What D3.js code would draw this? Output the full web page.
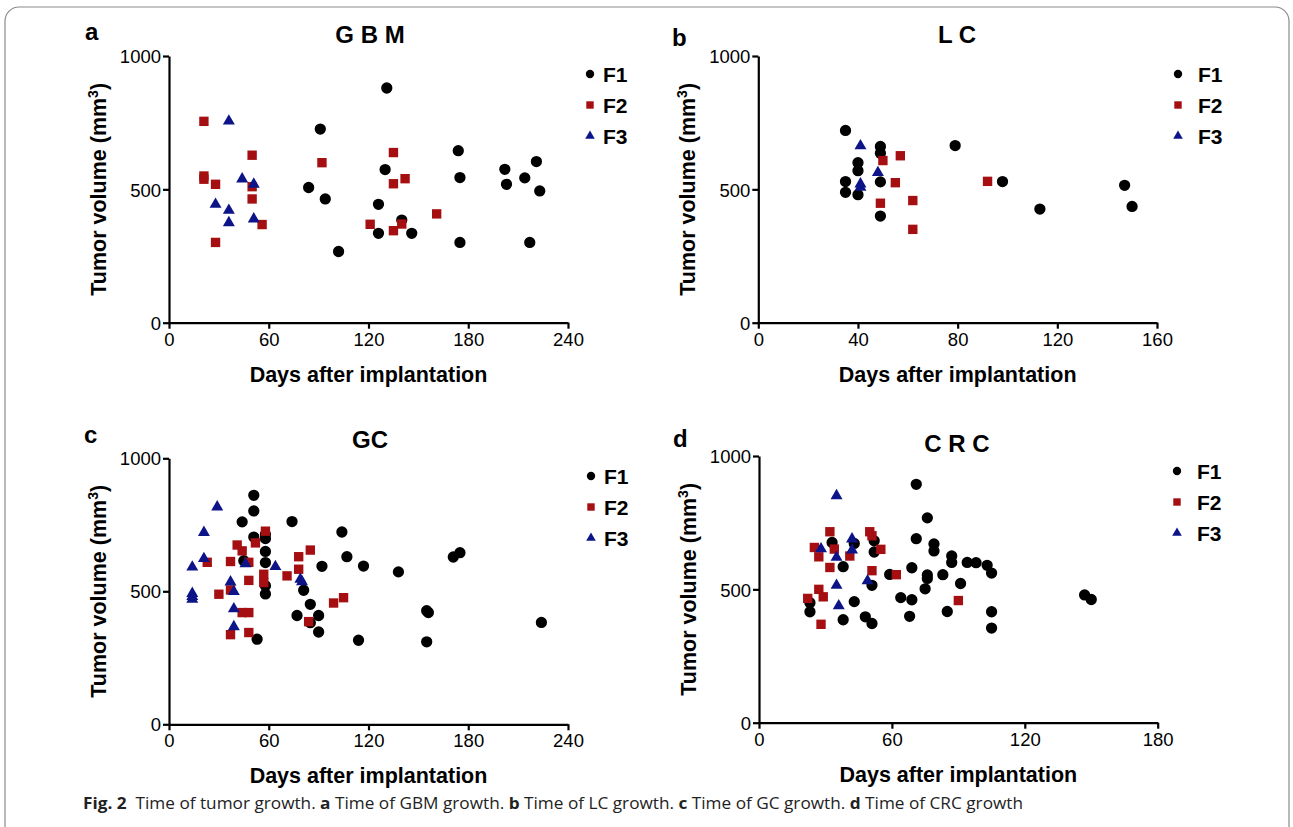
<!DOCTYPE html>
<html><head><meta charset="utf-8">
<script src="https://cdn.jsdelivr.net/npm/d3@7"></script>
<style>
body{margin:0;background:#fff;}
text{font-family:"Liberation Sans",Arial,sans-serif;}
</style></head>
<body>
<svg id="chart" width="1293" height="827"></svg>
<script>
// ---------- data: [days, volume mm3] ----------
const gbmF1 = [[131,880],[91,726],[84,507],[94,464],[102,267],[130,574],[126,444],[126,335],[140,385],[146,335],[174,645],[175,544],[175,301],[202,575],[203,519],[214,543],[221,604],[223,494],[217,301]];
const gbmF2 = [[21,755],[21,550],[21,538],[28,519],[28,301],[50,628],[50,510],[50,464],[56,368],[92,600],[135,638],[135,521],[142,540],[121,369],[140,370],[135,345],[161,408]];
const gbmF3 = [[36,756],[44,539],[51,519],[28,444],[36,421],[36,375],[51,389]];

const lcF1 = [[35,721],[35,529],[35,489],[40,600],[40,570],[40,480],[49,661],[49,635],[49,528],[49,400],[79,664],[98,529],[113,426],[147,515],[150,436]];
const lcF2 = [[50,608],[57,626],[55,525],[49,448],[62,458],[62,350],[92,530]];
const lcF3 = [[41,663],[41,520],[48,563],[41,508]];

const gcF1 = [[51,861],[51,802],[44,761],[51,704],[58,714],[58,698],[58,650],[58,608],[58,521],[58,490],[45,615],[53,320],[74,762],[81,504],[85,451],[77,409],[90,409],[90,347],[85,382],[92,594],[104,723],[107,630],[117,595],[114,316],[138,573],[155,427],[156,420],[155,310],[171,629],[175,645],[224,383]];
const gcF2 = [[58,726],[52,682],[41,674],[44,652],[37,612],[23,609],[48,609],[48,541],[57,564],[57,533],[78,630],[85,655],[78,583],[71,558],[30,489],[37,505],[44,420],[48,420],[37,337],[48,345],[99,456],[105,476],[84,386]];
const gcF3 = [[29,817],[21,721],[21,623],[14,591],[14,492],[14,480],[14,470],[37,535],[39,499],[39,434],[39,367],[46,603],[64,593],[79,545],[80,536]];

const crcF1 = [[71,894],[76,768],[71,690],[79,670],[79,644],[87,625],[87,601],[94,601],[98,600],[103,590],[105,561],[69,581],[76,554],[76,541],[83,555],[91,522],[75,502],[59,556],[64,469],[69,461],[68,399],[85,417],[105,416],[105,355],[147,479],[150,462],[33,676],[43,672],[52,682],[52,640],[38,585],[51,515],[23,450],[23,416],[43,454],[38,386],[48,397],[51,372]];
const crcF2 = [[32,716],[50,716],[51,701],[25,657],[34,651],[27,622],[41,625],[55,650],[32,582],[51,570],[62,555],[22,466],[27,500],[29,472],[28,369],[90,458]];
const crcF3 = [[35,851],[42,689],[42,647],[28,652],[35,620],[35,515],[36,438],[49,532]];

const yTicks = [0,500,1000];
const seriesNames = ["F1","F2","F3"];
const seriesColors = ["#000000","#a50f12","#0c1488"];

// ---------- layout ----------
const panels = [
  {letter:"a", title:"G B M", data:[gbmF1,gbmF2,gbmF3], xMax:240, xTicks:[0,60,120,180,240],
   x0:169, x1:568, y0:322.7, y1:56, lx:85, ly:40, tx:370, ty:43, legX:590, legY:74, legGap:13},
  {letter:"b", title:"L C", data:[lcF1,lcF2,lcF3], xMax:160, xTicks:[0,40,80,120,160],
   x0:758.3, x1:1157, y0:322.7, y1:56, lx:672, ly:46, tx:957, ty:43, legX:1178, legY:74, legGap:20},
  {letter:"c", title:"GC", data:[gcF1,gcF2,gcF3], xMax:240, xTicks:[0,60,120,180,240],
   x0:169, x1:568, y0:724.3, y1:458.3, lx:84, ly:443, tx:370, ty:448, legX:591, legY:476, legGap:13},
  {letter:"d", title:"C R C", data:[crcF1,crcF2,crcF3], xMax:180, xTicks:[0,60,120,180],
   x0:759, x1:1157.7, y0:722.7, y1:456, lx:673, ly:447, tx:957, ty:452, legX:1177, legY:471, legGap:20}
];

const svg = d3.select("#chart");

// frame
svg.append("rect").attr("x",5).attr("y",7).attr("width",1284).attr("height",840)
  .attr("rx",14).attr("fill","none").attr("stroke","#8a8a8a").attr("stroke-width",1.2);

const symbols = [d3.symbolCircle, d3.symbolSquare, d3.symbolTriangle];
const plotSizes = [100, 88, 62];
const legSizes = [55, 55, 40];

panels.forEach(p => {
  const x = d3.scaleLinear().domain([0,p.xMax]).range([p.x0,p.x1]);
  const y = d3.scaleLinear().domain([0,1000]).range([p.y0,p.y1]);
  const g = svg.append("g");

  const yAx = g.append("g").attr("transform",`translate(${p.x0},0)`)
    .call(d3.axisLeft(y).tickValues(yTicks).tickFormat(d3.format("d")).tickSize(6).tickSizeOuter(0).tickPadding(2));
  const xAx = g.append("g").attr("transform",`translate(0,${p.y0})`)
    .call(d3.axisBottom(x).tickValues(p.xTicks).tickFormat(d3.format("d")).tickSize(6).tickSizeOuter(0).tickPadding(4));
  [yAx,xAx].forEach(a=>{
    a.select(".domain").attr("stroke","#000").attr("stroke-width",2.2);
    a.selectAll(".tick line").attr("stroke","#000").attr("stroke-width",2.2);
    a.selectAll(".tick text").attr("fill","#000").style("font-size","18.5px")
      .style("font-family","'Liberation Sans',Arial,sans-serif");
  });
  yAx.selectAll(".tick text").attr("dy","0.36em");

  // labels
  g.append("text").attr("x",p.lx).attr("y",p.ly).text(p.letter)
    .style("font-size","24px").style("font-weight","bold");
  g.append("text").attr("x",p.tx).attr("y",p.ty).attr("text-anchor","middle").text(p.title)
    .style("font-size","24px").style("font-weight","bold");
  g.append("text").attr("x",(p.x0+p.x1)/2).attr("y",p.y0+59).attr("text-anchor","middle")
    .text("Days after implantation").style("font-size","21.5px").style("font-weight","bold");
  const yl = g.append("text").attr("transform",`translate(${p.x0-63},${(p.y0+p.y1)/2}) rotate(-90)`)
    .attr("text-anchor","middle").style("font-size","21.5px").style("font-weight","bold");
  yl.append("tspan").text("Tumor volume (mm");
  yl.append("tspan").text("3").attr("dy","-8").style("font-size","14px");
  yl.append("tspan").text(")").attr("dy","8");

  // points
  p.data.forEach((ser,i)=>{
    g.append("g").selectAll("path").data(ser).join("path")
      .attr("d", d3.symbol().type(symbols[i]).size(plotSizes[i]))
      .attr("transform", d=>`translate(${x(d[0])},${y(d[1])})`)
      .attr("fill", seriesColors[i]);
  });

  // legend
  seriesNames.forEach((n,i)=>{
    const ly = p.legY + i*31;
    g.append("path").attr("d", d3.symbol().type(symbols[i]).size(legSizes[i]))
      .attr("transform",`translate(${p.legX},${ly})`).attr("fill",seriesColors[i]);
    g.append("text").attr("x",p.legX+p.legGap).attr("y",ly).attr("dy","0.36em").text(n)
      .style("font-size","21px").style("font-weight","bold");
  });
});

// caption
const cap = svg.append("text").attr("x",83).attr("y",809)
  .style("font-family","'Open Sans','Noto Sans',sans-serif").style("font-size","15.5px").attr("fill","#222");
const parts = [["Fig. 2",true],["  Time of tumor growth. ",false],["a",true],[" Time of GBM growth. ",false],["b",true],[" Time of LC growth. ",false],["c",true],[" Time of GC growth. ",false],["d",true],[" Time of CRC growth",false]];
parts.forEach(([t,b])=>cap.append("tspan").text(t).style("font-weight",b?"bold":"normal").attr("xml:space","preserve"));
cap.attr("textLength",940).attr("lengthAdjust","spacingAndGlyphs");
</script>
</body></html>
